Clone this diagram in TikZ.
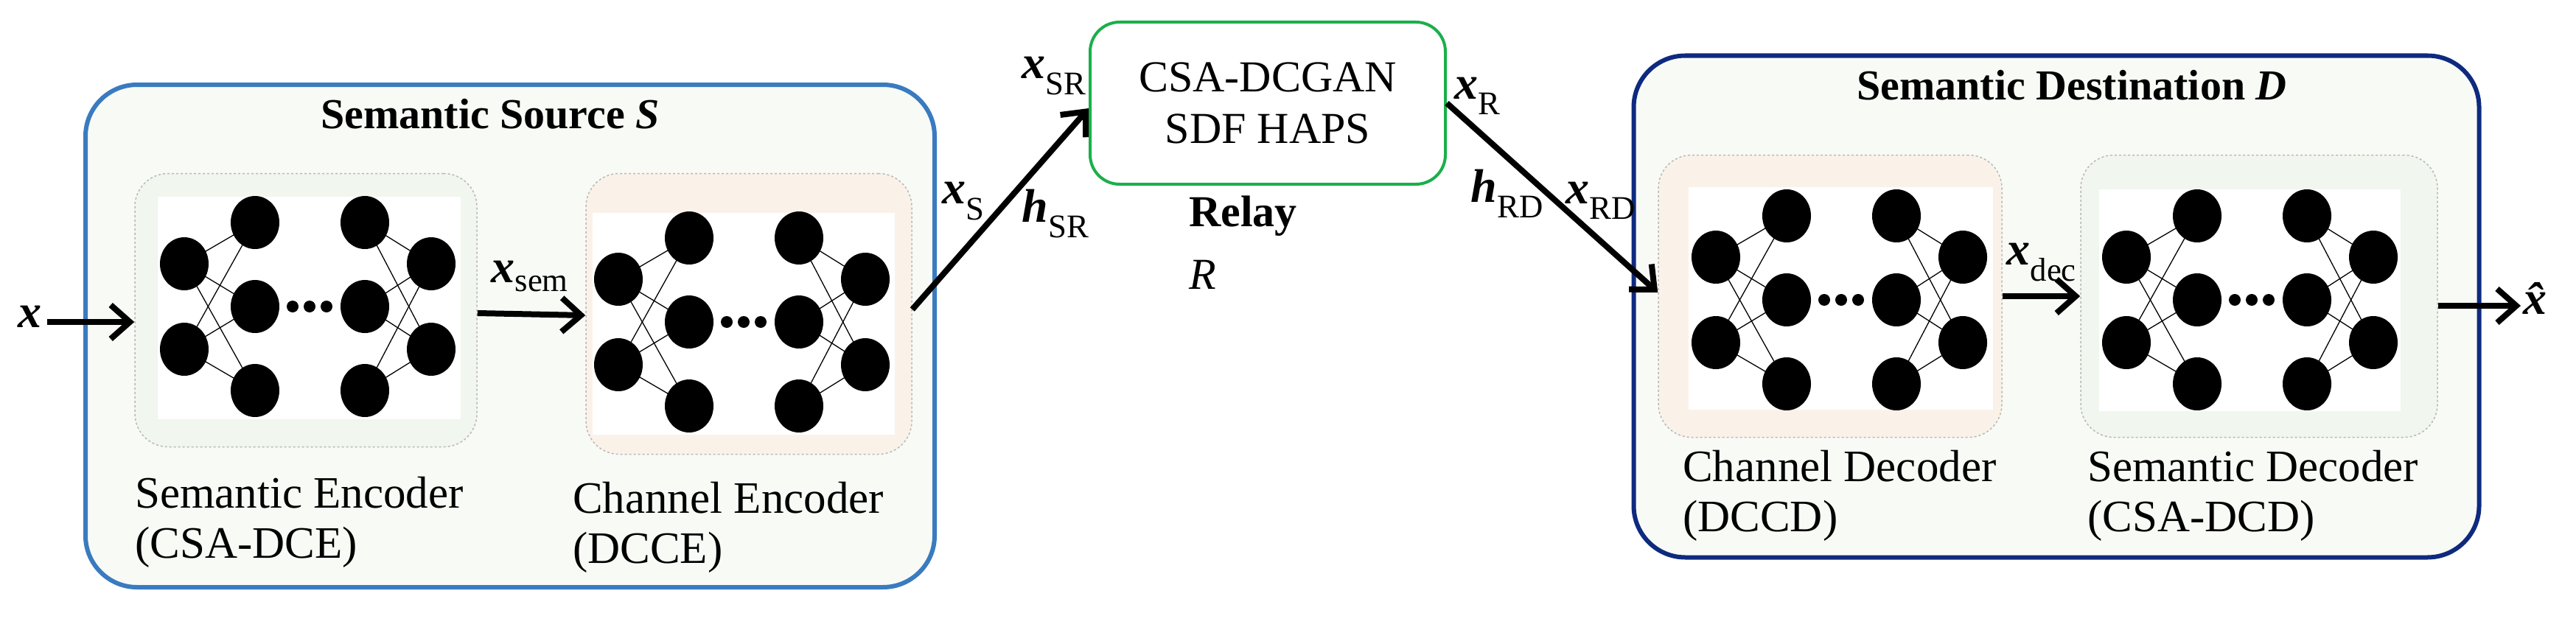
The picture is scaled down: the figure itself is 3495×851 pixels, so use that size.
\documentclass[tikz,border=0pt]{standalone}
\usepackage{fontspec}
\setmainfont{Liberation Serif}
\usetikzlibrary{arrows.meta,shapes.geometric}
\definecolor{bgc}{HTML}{F8FAF5}
\definecolor{encc}{HTML}{F1F6EE}
\definecolor{chc}{HTML}{FAF2E9}
\definecolor{srcb}{HTML}{3A7BC0}
\definecolor{dstb}{HTML}{0E2A7F}
\definecolor{relg}{HTML}{1BAF4A}
\newcommand\vx{\textbf{\textit{x}}}
\newcommand\vh{\textbf{\textit{h}}}
\newcommand\sbs[1]{\textsubscript{#1}}
\tikzset{
  outerbox/.style={rounded corners=70pt, line width=6pt, fill=bgc, inner sep=0},
  innerbox/.style={rounded corners=45pt, draw=gray!55, dashed, line width=1.5pt, inner sep=0},
  neuron/.style={ellipse, fill=black, minimum width=66pt, minimum height=72pt, inner sep=0},
  flow/.style={line width=8pt, -{Straight Barb[length=26pt,width=46pt,line width=8pt]}},
  lbl/.style={font=\fontsize{61}{68}\selectfont, inner sep=0},
  mlbl/.style={font=\fontsize{64}{64}\selectfont, inner sep=0},
}
\newcommand\mynet[3]{%
  \coordinate (#1a1) at ({#2},{#3-58});
  \coordinate (#1a2) at ({#2},{#3+58});
  \coordinate (#1b1) at ({#2+96},{#3-114});
  \coordinate (#1b2) at ({#2+96},{#3});
  \coordinate (#1b3) at ({#2+96},{#3+114});
  \coordinate (#1c1) at ({#2+245},{#3-114});
  \coordinate (#1c2) at ({#2+245},{#3});
  \coordinate (#1c3) at ({#2+245},{#3+114});
  \coordinate (#1d1) at ({#2+335},{#3-58});
  \coordinate (#1d2) at ({#2+335},{#3+58});
  \foreach \p in {a1,a2}{\foreach \q in {b1,b2,b3}{\draw[line width=1.3pt] (#1\p)--(#1\q);}}
  \foreach \p in {d1,d2}{\foreach \q in {c1,c2,c3}{\draw[line width=1.3pt] (#1\p)--(#1\q);}}
  \foreach \p in {a1,a2,b1,b2,b3,c1,c2,c3,d1,d2}{\node[neuron] (#1\p n) at (#1\p) {};}
  \foreach \k in {147,170,193}{\fill ({#2+\k},{#3}) circle (8pt);}
}
\begin{document}
\begin{tikzpicture}[x=1pt,y=-1pt]
\useasboundingbox (0,0) rectangle (3495,851);
\node[outerbox, draw=srcb, minimum width=1152pt, minimum height=682pt] (src) at (692,456) {};
\node[outerbox, draw=dstb, minimum width=1147pt, minimum height=681pt] (dst) at (2790,416) {};
\node[draw=relg, line width=4pt, rounded corners=40pt, fill=white, minimum width=482pt, minimum height=220pt, inner sep=0] (relay) at (1720,140) {};
\node[font=\fontsize{60}{66}\selectfont, align=center, inner sep=0] (reltxt) at (1720,140) {CSA-DCGAN\\[4pt]SDF HAPS};
\node[lbl, font=\fontsize{58}{64}\selectfont\bfseries] (srct) at (665,155) {Semantic Source \textit{S}};
\node[lbl, font=\fontsize{58}{64}\selectfont\bfseries] (dstt) at (2811,116) {Semantic Destination \textit{D}};
\node[lbl, anchor=west, font=\fontsize{60}{64}\selectfont\bfseries] (rl1) at (1613,293) {Relay};
\node[lbl, anchor=west, font=\fontsize{60}{64}\selectfont] (rl2) at (1613,373) {\textit{R}};
\node[innerbox, fill=encc, minimum width=464pt, minimum height=371pt] (enc) at (415,421) {};
\fill[white] (214,267) rectangle (625,569);
\node[innerbox, fill=chc, minimum width=442pt, minimum height=381pt] (chenc) at (1016,426) {};
\fill[white] (804,289) rectangle (1214,590);
\node[innerbox, fill=chc, minimum width=466pt, minimum height=383pt] (chdec) at (2483,402) {};
\fill[white] (2291,254) rectangle (2704,556);
\node[innerbox, fill=encc, minimum width=484pt, minimum height=383pt] (semdec) at (3065,402) {};
\fill[white] (2848,257) rectangle (3257,558);
\mynet{e}{250}{416}
\mynet{f}{839}{437}
\mynet{g}{2328}{407}
\mynet{h}{2885}{407}
\node[lbl, anchor=west, align=left] (l1) at (183,709) {Semantic Encoder\\(CSA-DCE)};
\node[lbl, anchor=west, align=left] (l2) at (777,716) {Channel Encoder\\(DCCE)};
\node[lbl, anchor=west, align=left] (l3) at (2283,673) {Channel Decoder\\(DCCD)};
\node[lbl, anchor=west, align=left] (l4) at (2832,673) {Semantic Decoder\\(CSA-DCD)};
\node[mlbl] (xin) at (40,430) {\vx};
\node[mlbl] (xhat) at (3447,405) {\textbf{\textit{\^{x}}}};
\draw[flow] (xin.east) ++(8,7) -- (enc.west |- 0,437);
\draw[flow] (enc.east |- 0,425) -- (chenc.west |- 0,428);
\draw[flow] (chenc.east |- 0,420) -- ([yshift=-7pt]relay.west);
\draw[flow] (relay.east) -- (chdec.west |- 0,397);
\draw[flow] (chdec.east |- 0,402) -- (semdec.west |- 0,402);
\draw[flow] (semdec.east |- 0,415) -- (3420,415);
\node[mlbl] (lsem) at (719,375) {\vx\sbs{sem}};
\node[mlbl] (ls) at (1307,273) {\vx\sbs{S}};
\node[mlbl] (lhsr) at (1432,290) {\vh\sbs{SR}};
\node[mlbl] (lxsr) at (1430,103) {\vx\sbs{SR}};
\node[mlbl] (lxr) at (2005,130) {\vx\sbs{R}};
\node[mlbl] (lhrd) at (2045,263) {\vh\sbs{RD}};
\node[mlbl] (lxrd) at (2172,272) {\vx\sbs{RD}};
\node[mlbl] (ldec) at (2770,356) {\vx\sbs{dec}};
\end{tikzpicture}
\end{document}
